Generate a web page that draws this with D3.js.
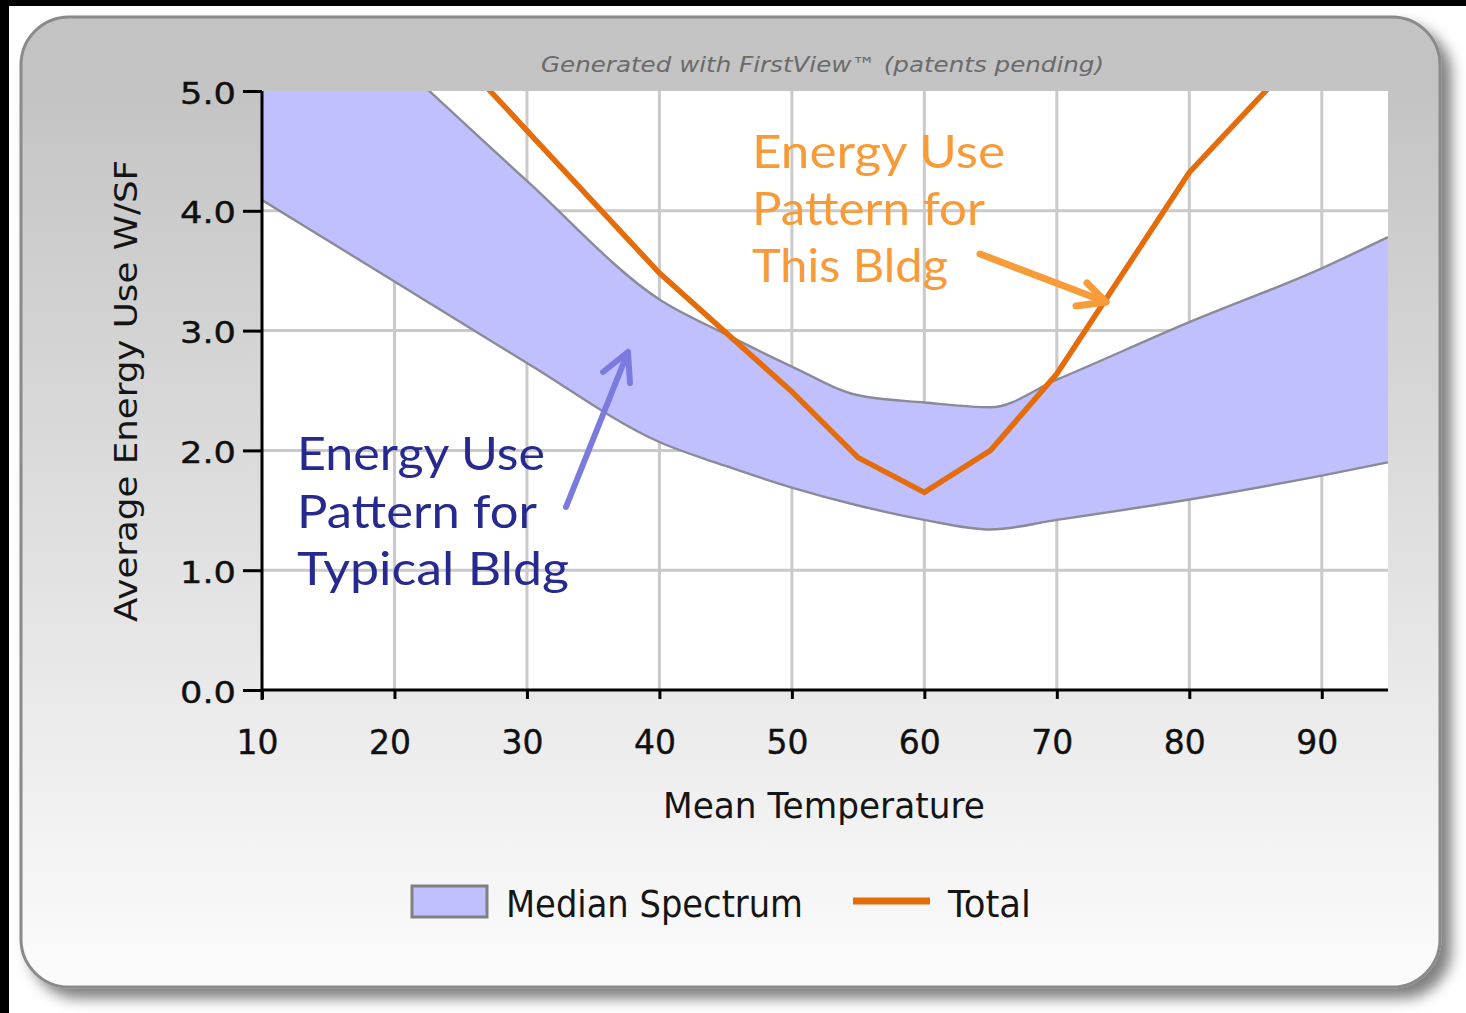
<!DOCTYPE html>
<html><head><meta charset="utf-8">
<script src="https://cdn.jsdelivr.net/npm/d3@7"></script>
<style>html,body{margin:0;padding:0;background:#fff;overflow:hidden}</style>
</head><body>
<svg id="c" width="1466" height="1013"></svg>
<script>
// ---- data ----
const bandTemps = [10, 20, 30, 40, 45, 50, 55, 60, 65, 70, 80, 90, 95];
const bandUpper = [6.3, 5.27, 4.25, 3.26, 2.97, 2.70, 2.46, 2.40, 2.36, 2.59, 3.07, 3.52, 3.78];
const bandLower = [4.09, 3.41, 2.73, 2.07, 1.87, 1.69, 1.54, 1.42, 1.34, 1.42, 1.59, 1.79, 1.90];
const totalTemps = [20, 30, 40, 50, 55, 60, 65, 70, 80, 90];
const totalValues = [5.86, 4.67, 3.48, 2.49, 1.94, 1.65, 2.0, 2.64, 4.32, 5.5];
const xTicks = [10, 20, 30, 40, 50, 60, 70, 80, 90];
const yTicks = [0, 1, 2, 3, 4, 5];
const titleText = "Generated with FirstView\u2122 (patents pending)";
const xTitle = "Mean Temperature";
const yTitle = "Average Energy Use W/SF";
const legendItems = ["Median Spectrum", "Total"];
const thisBldgLines = ["Energy Use", "Pattern for", "This Bldg"];
const typicalLines = ["Energy Use", "Pattern for", "Typical Bldg"];

const svg = d3.select("#c");
const defs = svg.append("defs");

// background strips
svg.append("rect").attr("x",0).attr("y",0).attr("width",1466).attr("height",1013).attr("fill","#fff");
svg.append("rect").attr("x",0).attr("y",0).attr("width",1466).attr("height",6).attr("fill","#000");
svg.append("rect").attr("x",0).attr("y",0).attr("width",9).attr("height",1013).attr("fill","#000");

// panel
const grad = defs.append("linearGradient").attr("id","pg").attr("x1",0).attr("y1",0).attr("x2",0).attr("y2",1);
grad.append("stop").attr("offset","0").attr("stop-color","#c3c3c3");
grad.append("stop").attr("offset","0.08").attr("stop-color","#c4c4c4");
grad.append("stop").attr("offset","1").attr("stop-color","#fcfcfc");
const sh = defs.append("filter").attr("id","sh").attr("x","-5%").attr("y","-5%").attr("width","115%").attr("height","115%");
sh.append("feDropShadow").attr("dx",10).attr("dy",10).attr("stdDeviation",7).attr("flood-color","#000").attr("flood-opacity",0.5);
svg.append("rect").attr("x",21).attr("y",17).attr("width",1419).attr("height",970).attr("rx",48).attr("ry",48)
  .attr("fill","url(#pg)").attr("stroke","#8a8a8a").attr("stroke-width",3).attr("filter","url(#sh)");

// scales
const x = d3.scaleLinear().domain([10, 95]).range([262, 1388]);
const y = d3.scaleLinear().domain([0, 5]).range([690, 91]);

// plot bg
svg.append("rect").attr("x",262).attr("y",91).attr("width",1126).attr("height",599).attr("fill","#fff");
defs.append("clipPath").attr("id","clip").append("rect").attr("x",262).attr("y",91).attr("width",1126).attr("height",599);

// grid
const g = svg.append("g");
g.selectAll("line.vx").data(xTicks.slice(1)).join("line")
  .attr("x1",d=>x(d)).attr("x2",d=>x(d)).attr("y1",91).attr("y2",690)
  .attr("stroke","#cacaca").attr("stroke-width",3);
g.selectAll("line.hy").data(yTicks.slice(1,5)).join("line")
  .attr("x1",262).attr("x2",1388).attr("y1",d=>y(d)).attr("y2",d=>y(d))
  .attr("stroke","#cacaca").attr("stroke-width",3);

const plot = svg.append("g").attr("clip-path","url(#clip)");
const bandData = bandTemps.map((t,i)=>({t, lo:bandLower[i], hi:bandUpper[i]}));
const curve = d3.curveMonotoneX;
plot.append("path").datum(bandData)
  .attr("d", d3.area().x(d=>x(d.t)).y0(d=>y(d.lo)).y1(d=>y(d.hi)).curve(curve))
  .attr("fill","#c0c0ff");
plot.append("path").datum(bandData)
  .attr("d", d3.line().x(d=>x(d.t)).y(d=>y(d.hi)).curve(curve))
  .attr("fill","none").attr("stroke","#8a8a98").attr("stroke-width",2.4);
plot.append("path").datum(bandData)
  .attr("d", d3.line().x(d=>x(d.t)).y(d=>y(d.lo)).curve(curve))
  .attr("fill","none").attr("stroke","#8a8a98").attr("stroke-width",2.4);
const totData = totalTemps.map((t,i)=>({t, v:totalValues[i]}));
plot.append("path").datum(totData)
  .attr("d", d3.line().x(d=>x(d.t)).y(d=>y(d.v)))
  .attr("fill","none").attr("stroke","#e46c0a").attr("stroke-width",5.5).attr("stroke-linejoin","miter");

// axes
const tickFont = "Tahoma, 'DejaVu Sans', Verdana, sans-serif";
const xAxis = d3.axisBottom(x).tickValues(xTicks).tickSize(9).tickFormat(d3.format("d"));
const xa = svg.append("g").attr("transform","translate(0,690)").call(xAxis);
xa.select(".domain").attr("stroke","#000").attr("stroke-width",3).attr("d","M262,0H1388");
xa.selectAll(".tick line").attr("stroke","#000").attr("stroke-width",3);
xa.selectAll(".tick text").attr("fill","#101010").attr("font-family",tickFont).attr("font-size",33)
  .attr("dy",null).attr("y",64).attr("x",-5).attr("textLength",42).attr("lengthAdjust","spacingAndGlyphs");

const yAxis = d3.axisLeft(y).tickValues(yTicks).tickSize(19).tickFormat(d3.format(".1f"));
const ya = svg.append("g").attr("transform","translate(262,0)").call(yAxis);
ya.select(".domain").attr("stroke","#000").attr("stroke-width",3).attr("d","M0,91V700");
ya.selectAll(".tick line").attr("stroke","#000").attr("stroke-width",3);
ya.selectAll(".tick text").attr("fill","#101010").attr("font-family",tickFont).attr("font-size",31)
  .attr("x",-26).attr("dy",null).attr("y",12).attr("textLength",56).attr("lengthAdjust","spacingAndGlyphs");
svg.selectAll(".tick text").attr("font-weight","normal").attr("stroke","#101010").attr("stroke-width",0.4);

// titles
svg.append("text").attr("x",541).attr("y",72).attr("font-family",tickFont).attr("font-style","italic")
  .attr("font-size",21).attr("fill","#6a6a6a").attr("textLength",563).attr("lengthAdjust","spacingAndGlyphs").text(titleText);
svg.append("text").attr("x",663).attr("y",818).attr("font-family",tickFont).attr("font-size",35)
  .attr("fill","#151515").attr("textLength",322).attr("lengthAdjust","spacingAndGlyphs").text(xTitle);
svg.append("text").attr("transform","translate(137,622) rotate(-90)").attr("font-family",tickFont).attr("font-size",32)
  .attr("fill","#151515").attr("textLength",462).attr("lengthAdjust","spacingAndGlyphs").text(yTitle);

// legend
svg.append("rect").attr("x",412).attr("y",886).attr("width",75).attr("height",31)
  .attr("fill","#c0c0ff").attr("stroke","#808080").attr("stroke-width",3);
svg.append("text").attr("x",506).attr("y",917).attr("font-family",tickFont).attr("font-size",38)
  .attr("fill","#151515").attr("textLength",297).attr("lengthAdjust","spacingAndGlyphs").text(legendItems[0]);
svg.append("line").attr("x1",853).attr("x2",930).attr("y1",901).attr("y2",901).attr("stroke","#e46c0a").attr("stroke-width",7);
svg.append("text").attr("x",948).attr("y",917).attr("font-family",tickFont).attr("font-size",38)
  .attr("fill","#151515").attr("textLength",83).attr("lengthAdjust","spacingAndGlyphs").text(legendItems[1]);

// annotations
const annFont = "Lato, 'Open Sans', sans-serif";
const orW = [253, 233, 196];
thisBldgLines.forEach((s,i)=>{
  svg.append("text").attr("x",752).attr("y",168+i*57).attr("font-family",annFont).attr("font-size",47)
    .attr("fill","#f79b38").attr("textLength",orW[i]).attr("lengthAdjust","spacingAndGlyphs").text(s);
});
const blW = [248, 240, 272];
typicalLines.forEach((s,i)=>{
  svg.append("text").attr("x",297).attr("y",470+i*57.5).attr("font-family",annFont).attr("font-size",47)
    .attr("fill","#262a8e").attr("textLength",blW[i]).attr("lengthAdjust","spacingAndGlyphs").text(s);
});

// arrows
function arrow(pts, color, w){
  svg.append("path").attr("d", d3.line()(pts)).attr("fill","none").attr("stroke",color)
    .attr("stroke-width",w).attr("stroke-linecap","round").attr("stroke-linejoin","round");
}
arrow([[980,254],[1106,302]], "#f89c3a", 7);
arrow([[1087,283],[1106,302],[1076,306]], "#f89c3a", 7);
arrow([[566,507],[628,352]], "#7b7bdf", 6);
arrow([[603,372],[628,352],[630,383]], "#7b7bdf", 6);
</script>
</body></html>
